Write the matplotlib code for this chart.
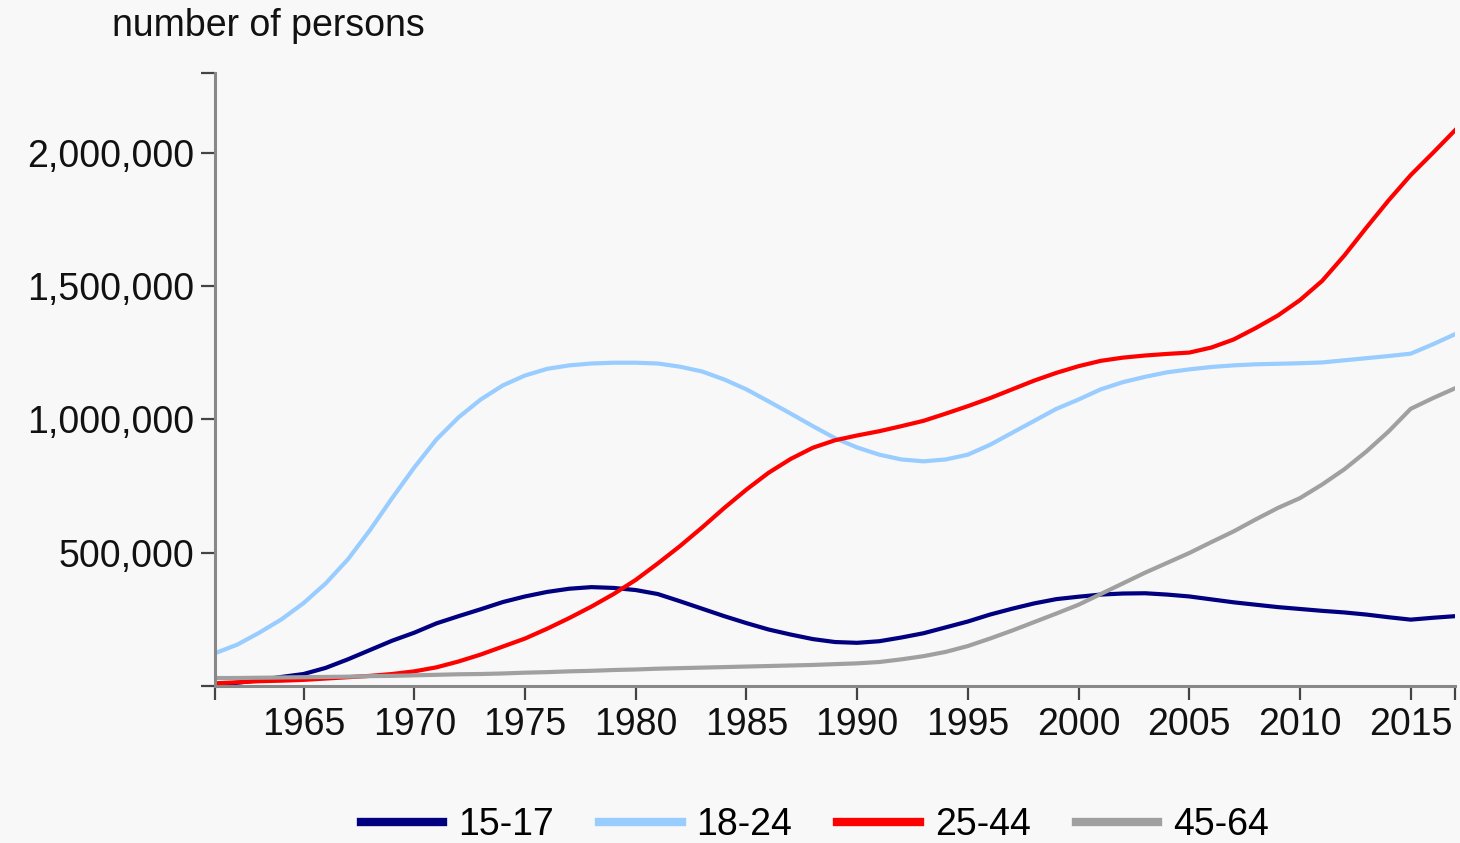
import matplotlib
matplotlib.use("Agg")
import matplotlib.pyplot as plt
from matplotlib.ticker import FuncFormatter

plt.rcParams['font.family'] = ['Liberation Sans', 'DejaVu Sans']

# values, in thousands of persons
years = list(range(1961, 2018))

age_15_17 = [5, 12, 22, 34, 45, 68, 100, 135, 170, 200,
             235, 262, 288, 315, 336, 353, 365, 371, 368, 360,
             345, 318, 290, 262, 236, 212, 193, 176, 165, 162,
             168, 182, 198, 220, 242, 268, 290, 310, 326, 335,
             343, 347, 348, 343, 336, 325, 314, 305, 296, 289,
             282, 276, 268, 258, 249, 256, 262]

age_18_24 = [123, 155, 200, 250, 311, 385, 475, 585, 705, 820,
             925, 1008, 1075, 1128, 1165, 1190, 1203, 1210, 1213, 1213,
             1210, 1198, 1180, 1150, 1113, 1068, 1022, 975, 930, 895,
             868, 850, 843, 850, 868, 905, 950, 995, 1040, 1075,
             1113, 1140, 1160, 1177, 1188, 1197, 1203, 1207, 1209, 1211,
             1214, 1222, 1230, 1238, 1247, 1282, 1320]

age_25_44 = [10, 14, 18, 20, 23, 28, 33, 38, 45, 55,
             70, 92, 118, 148, 178, 215, 255, 298, 345, 398,
             460, 525, 595, 668, 737, 800, 852, 894, 922, 940,
             956, 975, 995, 1022, 1050, 1080, 1113, 1146, 1175, 1200,
             1220, 1232, 1240, 1246, 1251, 1270, 1300, 1343, 1390, 1448,
             1520, 1615, 1720, 1822, 1917, 2000, 2085]

age_45_64 = [30, 30, 31, 32, 33, 34, 35, 37, 38, 40,
             42, 44, 45, 47, 50, 52, 55, 57, 60, 62,
             65, 67, 69, 71, 73, 75, 77, 79, 82, 85,
             90, 100, 112, 128, 150, 178, 208, 240, 272, 305,
             345, 385, 425, 462, 499, 540, 580, 625, 668, 705,
             756, 813, 880, 955, 1040, 1080, 1117]

series = [("15-17", age_15_17, "#000080"),
          ("18-24", age_18_24, "#99ccff"),
          ("25-44", age_25_44, "#ff0000"),
          ("45-64", age_45_64, "#a0a0a0")]

bg = "#f8f8f8"
fig = plt.figure(figsize=(14.6, 8.43), dpi=100, facecolor=bg)
ax = fig.add_axes([215 / 1460, 1 - 686 / 843, 1240 / 1460, 613 / 843])
ax.set_facecolor(bg)

for name, vals, col in series:
    ax.plot(years, [v * 1000 for v in vals], color=col, lw=3, label=name,
            solid_joinstyle="round")

ax.set_xlim(1961, 2017)
ax.set_ylim(0, 2300000)

ax.set_xticks(range(1965, 2016, 5))
ax.set_xticks([1961, 2017], minor=True)
ax.set_yticks([500000, 1000000, 1500000, 2000000])
ax.set_yticks([0, 2300000], minor=True)
ax.yaxis.set_major_formatter(FuncFormatter(lambda v, p: f"{int(v):,}"))

for s in ["top", "right"]:
    ax.spines[s].set_visible(False)
for s in ["left", "bottom"]:
    ax.spines[s].set_color("#888888")
    ax.spines[s].set_linewidth(2.2)

ax.tick_params(which="both", length=10, width=1.6, color="#444444",
               labelsize=27, labelcolor="#111111")
ax.tick_params(axis="y", pad=5)
ax.tick_params(axis="x", pad=5)

fig.text(112 / 1460, 1 - 26 / 843, "number of persons", fontsize=27,
         ha="left", va="center", color="#111111")

leg = fig.legend(loc="center", bbox_to_anchor=(815 / 1460, 1 - 825 / 843),
                 ncol=4, frameon=False, fontsize=27, handlelength=2.2,
                 handletextpad=0.4, columnspacing=1.2)
for h in leg.get_lines():
    h.set_linewidth(6)

fig.savefig("out.png", dpi=100, facecolor=bg)
